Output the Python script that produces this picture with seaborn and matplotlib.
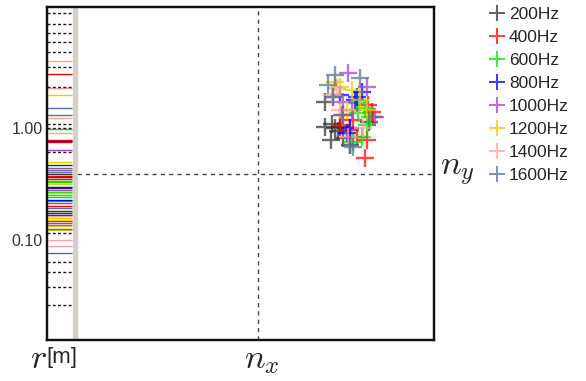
import numpy as np
import pandas as pd
import matplotlib
matplotlib.use("Agg")
import matplotlib.pyplot as plt
from matplotlib.lines import Line2D
from matplotlib.ticker import NullLocator
import seaborn as sns

# ---------------- data ----------------
freqs = ["200Hz", "400Hz", "600Hz", "800Hz", "1000Hz", "1200Hz", "1400Hz", "1600Hz"]
colors = ["#303030", "#ff0000", "#00e800", "#0000ff", "#a040c8", "#e8cc00", "#ffa0a0", "#587090"]

# scatter (n_x, n_y) per frequency
nx_200 = [0.67, 0.67, 0.74, 0.77, 0.73, 0.82, 0.80, 0.92, 1.11, 0.85]
ny_200 = [0.72, 0.47, 0.50, 0.46, 0.34, 0.47, 0.43, 0.29, 0.52, 0.36]
nx_400 = [1.07, 0.99, 1.09, 1.14, 1.10, 0.85, 0.92, 0.82, 0.95, 1.15]
ny_400 = [0.16, 0.37, 0.34, 0.62, 0.69, 0.59, 0.44, 0.49, 0.54, 0.57]
nx_600 = [1.07, 1.00, 1.12, 1.04, 0.99, 1.09, 0.95]
ny_600 = [0.66, 0.61, 0.57, 0.37, 0.71, 0.49, 0.32]
nx_800 = [1.04, 0.99, 0.89, 0.92, 0.97, 0.82]
ny_800 = [0.82, 0.77, 0.41, 0.46, 0.74, 0.79]
nx_1000 = [0.90, 1.09, 1.17, 0.75, 0.85, 0.94]
ny_1000 = [1.01, 0.87, 0.57, 0.77, 0.72, 0.64]
nx_1200 = [0.82, 0.77, 0.89, 1.02, 0.94, 1.09]
ny_1200 = [0.87, 0.92, 0.64, 0.74, 0.84, 0.64]
nx_1400 = [0.74, 0.79, 1.05, 0.82, 0.90]
ny_1400 = [0.79, 0.86, 0.46, 0.64, 0.37]
nx_1600 = [0.77, 1.02, 0.70, 0.92, 0.95, 0.75, 0.84]
ny_1600 = [0.99, 0.96, 0.89, 0.29, 0.27, 0.77, 0.59]

# distances r [m] per frequency (rug on the left)
r_200 = [0.467, 0.388, 0.365, 0.291, 0.182, 0.174]
r_400 = [3.03, 0.78, 0.75, 0.373, 0.351, 0.201, 0.148]
r_600 = [0.98, 0.336, 0.330, 0.268, 0.252, 0.242, 0.223]
r_800 = [0.297, 0.228, 0.167, 0.76]
r_1000 = [0.64, 0.422, 0.279, 0.142, 0.136]
r_1200 = [1.97, 0.497, 0.316, 0.263, 0.157, 0.151, 0.133, 0.123]
r_1400 = [3.97, 2.28, 1.23, 0.90, 0.164, 0.100, 0.0884]
r_1600 = [1.51, 1.31, 0.439, 0.405, 0.214, 0.193, 0.125, 0.0766]
r_dashed = [10.6, 8.48, 7.05, 5.86, 4.77, 3.50, 2.32, 1.09, 1.00, 0.61,
            0.115, 0.0636, 0.0518, 0.0380, 0.0263]

ytick_vals = [0.1, 1.0]
ytick_labels = ["0.10", "1.00"]

nx_all = [nx_200, nx_400, nx_600, nx_800, nx_1000, nx_1200, nx_1400, nx_1600]
ny_all = [ny_200, ny_400, ny_600, ny_800, ny_1000, ny_1200, ny_1400, ny_1600]
r_all = [r_200, r_400, r_600, r_800, r_1000, r_1200, r_1400, r_1600]

df = pd.DataFrame({
    "nx": np.concatenate(nx_all),
    "ny": np.concatenate(ny_all),
    "freq": np.concatenate([[f] * len(v) for f, v in zip(freqs, nx_all)]),
})
df_r = pd.DataFrame({
    "r": np.concatenate(r_all),
    "freq": np.concatenate([[f] * len(v) for f, v in zip(freqs, r_all)]),
})
palette = dict(zip(freqs, colors))

# ---------------- style ----------------
sns.set_style("white")
plt.rcParams["font.family"] = ["Liberation Sans", "DejaVu Sans"]
plt.rcParams["mathtext.fontset"] = "cm"

W, H = 586, 381
fig = plt.figure(figsize=(W / 100, H / 100), dpi=100)
L, R, T, B = 47, 434, 7, 340
ax = fig.add_axes([L / W, 1 - B / H, (R - L) / W, (B - T) / H])

sns.scatterplot(data=df, x="nx", y="ny", hue="freq", hue_order=freqs,
                palette=palette, marker="+", s=170, linewidth=1.7,
                alpha=0.72, ax=ax, legend=False, zorder=3)
ax.set_xlim((L - 258) / 100, (R - 258) / 100)
ax.set_ylim((174 - B) / 100, (174 - T) / 100)
ax.set_xticks([]); ax.set_yticks([])
ax.set_xlabel(""); ax.set_ylabel("")

dash = (0, (3, 3))
ax.axvline(0, color="#444444", ls=dash, lw=1.0, zorder=1)
ax.axhline(0, xmin=(77 - L) / (R - L), xmax=1.0, color="#444444", ls=dash, lw=1.0, zorder=1)

# grey strip
ax.plot([(74.5 - L) / (R - L)] * 2, [0, 1], transform=ax.transAxes,
        color="#d4d0c8", lw=3.8, solid_capstyle="butt", zorder=2)

# rug axis (log r)
axr = ax.twinx()
axr.set_yscale("log")
rug_h = (72 - L) / (R - L)
sns.rugplot(data=df_r, y="r", hue="freq", hue_order=freqs, palette=palette,
            height=rug_h, lw=2.6, ax=axr, legend=False, expand_margins=False)
sns.rugplot(y=r_dashed, height=rug_h, color="#222222", lw=1.3,
            linestyle=(0, (2.2, 1.6)), ax=axr, expand_margins=False)
axr.set_ylim(10 ** ((128 - B) / 112), 10 ** ((128 - T) / 112))
axr.yaxis.tick_left()
axr.set_yticks(ytick_vals)
axr.set_yticklabels(ytick_labels)
axr.yaxis.set_minor_locator(NullLocator())
axr.tick_params(axis="y", length=0, pad=3, labelsize=11.5, labelcolor="#333333")
axr.set_ylabel("")

for a in (ax, axr):
    for s in a.spines.values():
        s.set_color("#111111")
        s.set_linewidth(1.6)

# legend
handles = [Line2D([], [], marker="+", ls="", color=c, ms=12, mew=1.5, alpha=0.75)
           for c in colors]
fig.legend(handles, freqs, loc="upper left", bbox_to_anchor=(489 / W, 1 - 7 / H),
           frameon=False, fontsize=12.5, handlelength=0.9, handletextpad=0.25,
           labelspacing=0.45, borderaxespad=0, borderpad=0)

# axis labels
fig.text(440 / W, 1 - 172 / H, r"$n_y$", fontsize=25, ha="left", va="center")
fig.text(262 / W, 1 - 360 / H, r"$n_x$", fontsize=25, ha="center", va="center")
fig.text(30 / W, 1 - 359 / H, r"$r$", fontsize=25, ha="left", va="center")
fig.text(46 / W, 1 - 358 / H, "[m]", fontsize=16, ha="left", va="center")

fig.savefig("out.png", dpi=100, facecolor="white")
